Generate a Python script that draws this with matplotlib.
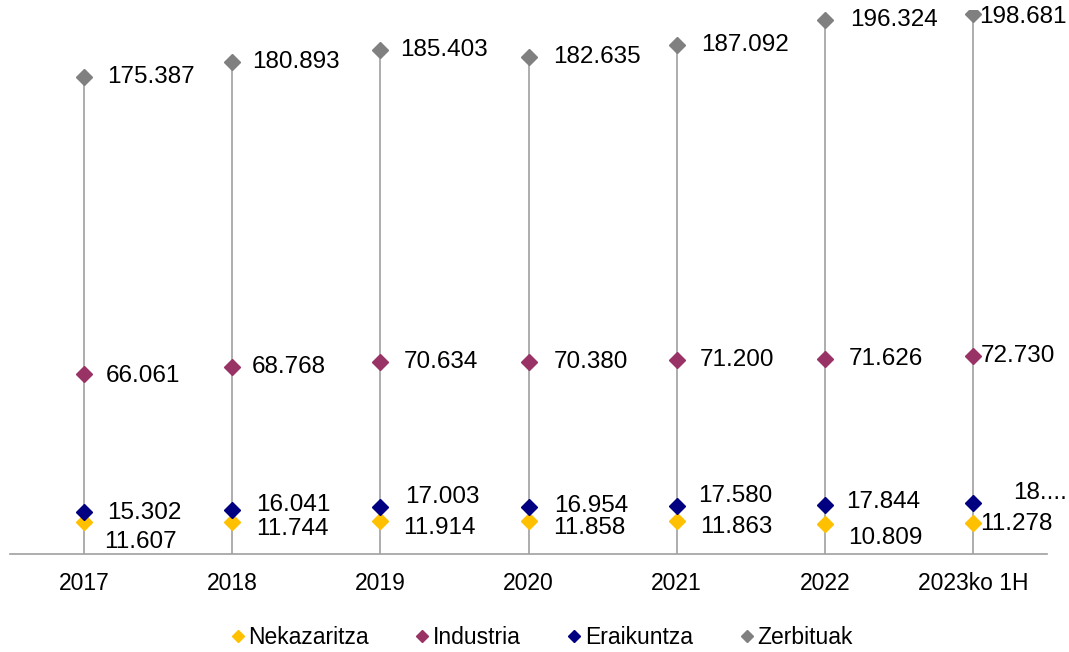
import numpy as np
import matplotlib.pyplot as plt

plt.rcParams['font.family'] = ['Liberation Sans', 'DejaVu Sans']

years = ["2017", "2018", "2019", "2020", "2021", "2022", "2023ko 1H"]
series = ["Nekazaritza", "Industria", "Eraikuntza", "Zerbituak"]

nekazaritza = [11.607, 11.744, 11.914, 11.858, 11.863, 10.809, 11.278]
industria = [66.061, 68.768, 70.634, 70.380, 71.200, 71.626, 72.730]
eraikuntza = [15.302, 16.041, 17.003, 16.954, 17.580, 17.844, 18.6]
zerbituak = [175.387, 180.893, 185.403, 182.635, 187.092, 196.324, 198.681]

colors = ["#FFC000", "#993366", "#000080", "#808080"]

# label offsets in pixels (dx, dy) - mimic excel placement
offs = [
    [(20, -20), (24, -7), (23, -7), (25, -7), (23, -6), (23, -14), (7, -1)],
    [(22, -2), (20, 0), (23, 0), (25, 0), (23, 0), (24, 0), (8, 0)],
    [(23, -1), (24, 5), (25, 10), (26, 1), (21, 10), (21, 3), (40, 10)],
    [(23, 0), (20, 0), (20, 0), (25, 0), (24, 0), (25, 0), (6, -3)],
]

data = [nekazaritza, industria, eraikuntza, zerbituak]
x = np.arange(len(years))

fig = plt.figure(figsize=(10.69, 6.52), dpi=100)
ax = fig.add_axes([10/1069, 1-553.5/652, 1037/1069, 543.5/652])

top = np.max(np.array(data), axis=0)
ax.vlines(x, 0, top, color="#A0A0A0", lw=1.2, zorder=1)

for name, vals, col, off in zip(series, data, colors, offs):
    ax.plot(x, vals, "D", ms=8.5, color=col, label=name, zorder=3, lw=0)
    for xi, v, (dx, dy) in zip(x, vals, off):
        txt = "%.3f" % v
        if name == "Eraikuntza" and xi == 6:
            txt = "18...."
        ax.annotate(txt, (xi, v), xytext=(dx, dy), textcoords="offset pixels",
                    ha="left", va="center", fontsize=17.5, color="#000000")

ax.set_xlim(-0.5, 6.5)
ax.set_ylim(0, 200)
ax.set_yticks([])
ax.set_xticks(x)
ax.set_xticklabels(years, fontsize=16.5)
ax.tick_params(axis="x", length=0, pad=13)
for s in ["top", "right", "left"]:
    ax.spines[s].set_visible(False)
ax.spines["bottom"].set_color("#A0A0A0")
ax.spines["bottom"].set_linewidth(1.2)

leg = fig.legend(loc="center", bbox_to_anchor=(0.505, 0.022), ncol=4, frameon=False,
                 fontsize=16.5, handletextpad=0.0, columnspacing=1.9, markerscale=0.7,
                 handlelength=0.9)

fig.savefig("out.png", dpi=100)
